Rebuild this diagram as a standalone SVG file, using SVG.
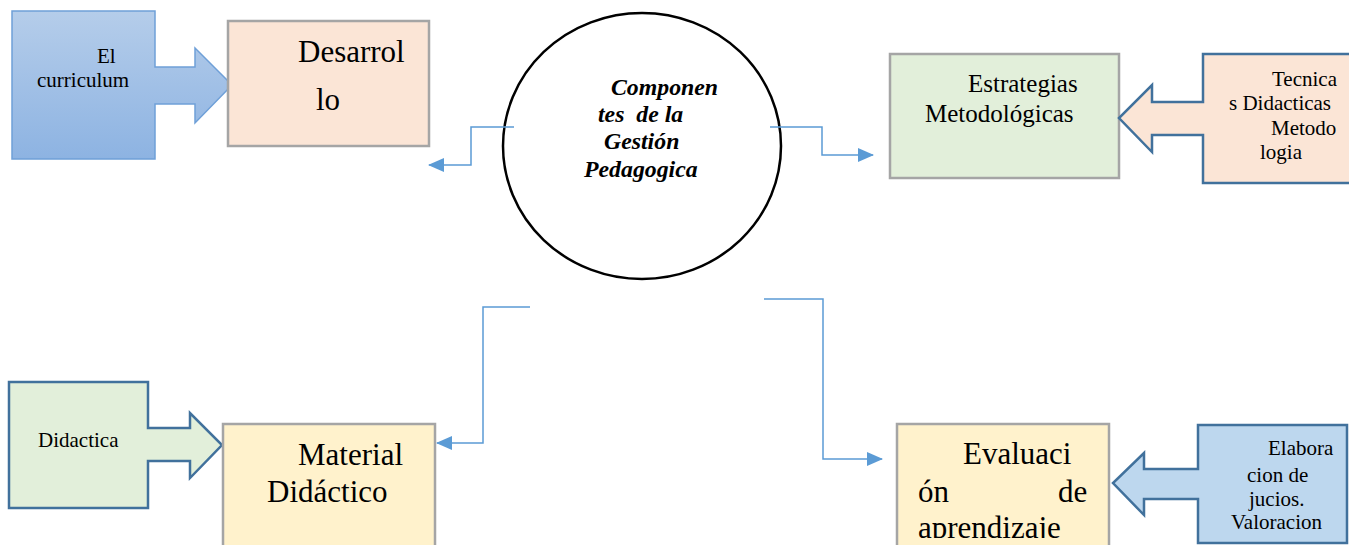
<svg xmlns="http://www.w3.org/2000/svg" width="1349" height="545" viewBox="0 0 1349 545">
  <style>
    .box { stroke: #a5a5a5; stroke-width: 2.5; }
    .callout { stroke: #41719c; stroke-width: 2.5; stroke-linejoin: miter; }
    .t { font-family: "Liberation Serif", "Times New Roman", serif; fill: #000; }
    .big { font-size: 31px; }
    .mid { font-size: 25px; }
    .small { font-size: 21px; }
    .hub { font-size: 23.8px; font-weight: bold; font-style: italic; }
    .conn { fill: none; stroke: #5b9bd5; stroke-width: 1.5; }
  </style>
  <defs>
    <linearGradient id="blueGrad" x1="0" y1="0" x2="0" y2="1">
      <stop offset="0" stop-color="#b5cdea"/>
      <stop offset="1" stop-color="#8db3e2"/>
    </linearGradient>
    <marker id="arrow" viewBox="0 0 16 14" refX="15" refY="7" markerWidth="16" markerHeight="14" markerUnits="userSpaceOnUse" orient="auto">
      <path d="M0,0 L16,7 L0,14 Z" fill="#5b9bd5"/>
    </marker>
    <clipPath id="evalClip">
      <rect x="890" y="420" width="230" height="118"/>
    </clipPath>
  </defs>

  <rect width="1349" height="545" fill="#ffffff"/>

  <!-- central hub -->
  <g id="hub">
    <ellipse cx="642" cy="146" rx="139" ry="133" fill="#ffffff" stroke="#000" stroke-width="2.5"/>
    <text class="t hub" x="611" y="95">Componen</text>
    <text class="t hub" x="598" y="122" xml:space="preserve">tes  de la</text>
    <text class="t hub" x="604" y="149">Gestión</text>
    <text class="t hub" x="584" y="177">Pedagogica</text>
  </g>

  <!-- connectors from the hub -->
  <g id="connectors">
    <path class="conn" d="M514,127 H471 V165 H429" marker-end="url(#arrow)"/>
    <path class="conn" d="M770,127 H822 V155 H873" marker-end="url(#arrow)"/>
    <path class="conn" d="M530,307 H483 V443 H437" marker-end="url(#arrow)"/>
    <path class="conn" d="M764,299 H823 V459 H882" marker-end="url(#arrow)"/>
  </g>

  <!-- top-left: Desarrollo -->
  <g id="curriculum">
    <path d="M12,11 H155 V67 H195 V48 L232,85 L195,123 V104 H155 V159 H12 Z" fill="url(#blueGrad)" stroke="#6fa0d8" stroke-width="1.5"/>
    <text class="t small" x="97" y="63">El</text>
    <text class="t small" x="37" y="87">curriculum</text>
  </g>
  <g id="desarrollo">
    <rect class="box" x="228" y="21" width="201" height="125" fill="#fbe5d6"/>
    <text class="t big" x="298" y="62">Desarrol</text>
    <text class="t big" x="316" y="110">lo</text>
  </g>

  <!-- top-right: Estrategias -->
  <g id="estrategias">
    <rect class="box" x="890" y="54" width="229" height="124" fill="#e2efda"/>
    <text class="t mid" x="968" y="92">Estrategias</text>
    <text class="t mid" x="925" y="122">Metodológicas</text>
  </g>
  <g id="tecnicas">
    <path class="callout" d="M1203,54 H1360 V183 H1203 V135 H1152 V152 L1119,118 L1152,85 V102 H1203 Z" fill="#fbe5d6"/>
    <text class="t small" x="1272" y="86">Tecnica</text>
    <text class="t small" x="1229" y="110">s Didacticas</text>
    <text class="t small" x="1271" y="135">Metodo</text>
    <text class="t small" x="1260" y="159">logia</text>
  </g>

  <!-- bottom-left: Material Didáctico -->
  <g id="didactica">
    <path class="callout" d="M9,382 H148 V428 H190 V413 L222,445 L190,478 V461 H148 V508 H9 Z" fill="#e2efda"/>
    <text class="t small" x="38" y="447">Didactica</text>
  </g>
  <g id="material">
    <rect class="box" x="223" y="424" width="212" height="140" fill="#fff2cc"/>
    <text class="t big" x="298" y="465">Material</text>
    <text class="t big" x="267" y="502">Didáctico</text>
  </g>

  <!-- bottom-right: Evaluación -->
  <g id="evaluacion">
    <rect class="box" x="897" y="424" width="212" height="140" fill="#fff2cc"/>
    <text class="t big" x="963" y="464">Evaluaci</text>
    <text class="t big" x="918" y="502">ón</text>
    <text class="t big" x="1058" y="502">de</text>
    <text class="t big" x="918" y="538" clip-path="url(#evalClip)">aprendizaje</text>
  </g>
  <g id="valoracion">
    <path class="callout" d="M1198,425 H1347 V543 H1198 V499 H1144 V515 L1113,483 L1144,453 V469 H1198 Z" fill="#bdd7ee"/>
    <text class="t small" x="1268" y="455">Elabora</text>
    <text class="t small" x="1247" y="482">cion de</text>
    <text class="t small" x="1249" y="506">jucios.</text>
    <text class="t small" x="1231" y="529">Valoracion</text>
  </g>
</svg>
